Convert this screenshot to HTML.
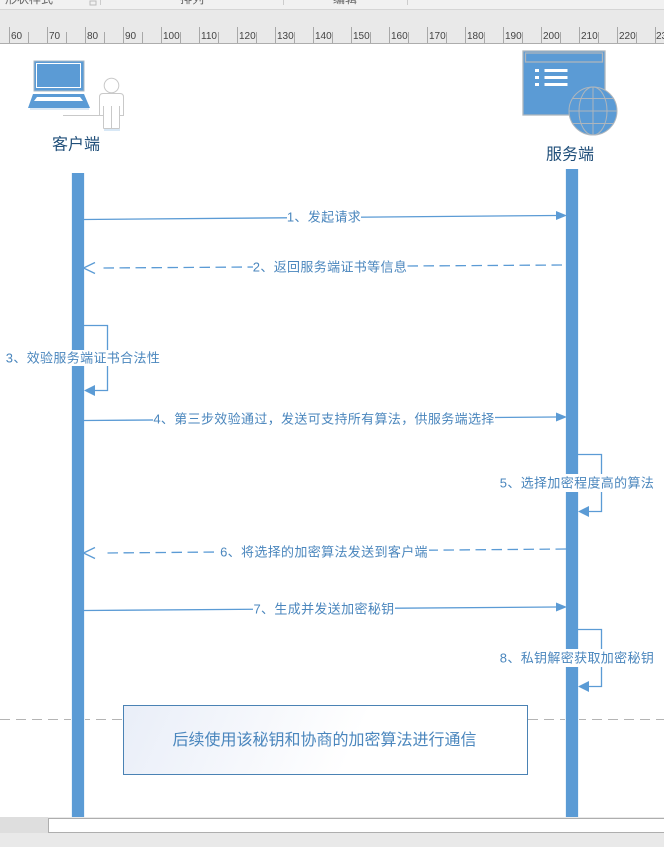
<!DOCTYPE html>
<html lang="zh">
<head>
<meta charset="utf-8">
<style>
html,body{margin:0;padding:0;background:#fff;width:664px;height:847px;overflow:hidden}
svg{display:block}
text{font-family:"Liberation Sans","Noto Sans CJK SC",sans-serif}
.l{font-size:13px;fill:#4a86bd;text-anchor:middle;letter-spacing:.35px}
.r{font-size:10px;fill:#444}
.c{stroke:#5b9bd5;stroke-width:1.3;fill:none}
.d{stroke:#5b9bd5;stroke-width:1.3;fill:none;stroke-dasharray:10.500 5.500}
.bg{fill:#fff}
.a{fill:#5b9bd5}
.o{fill:none;stroke:#5b9bd5;stroke-width:1.3}
.h{font-size:16px;fill:#1f4e79;text-anchor:middle}
</style>
</head>
<body>
<svg width="664" height="847" viewBox="0 0 664 847" xmlns="http://www.w3.org/2000/svg">
<!-- toolbar -->
<rect x="0" y="0" width="664" height="9" fill="#f1f1f1"/>
<rect x="0" y="9" width="664" height="34" fill="#e9e9e9"/>
<rect x="0" y="9" width="664" height="1" fill="#d5d5d5"/>
<rect x="0" y="43" width="664" height="1" fill="#adadad"/>
<text x="5" y="3" font-size="12" fill="#666">形状样式</text>
<text x="180" y="3" font-size="12" fill="#666">排列</text>
<text x="333" y="3" font-size="12" fill="#666">编辑</text>
<path d="M100.500 0V5M283.500 0V5M407.500 0V5" stroke="#ccc" fill="none"/>
<rect x="90" y="1" width="6" height="4" fill="none" stroke="#bbb"/>
<!-- ruler -->
<path stroke="#a8a8a8" fill="none" d="M9.500 27V43M28.500 32V43M47.500 27V43M66.500 32V43M85.500 27V43M104.500 32V43M123.500 27V43M142.500 32V43M161.500 27V43M180.500 32V43M199.500 27V43M218.500 32V43M237.500 27V43M256.500 32V43M275.500 27V43M294.500 32V43M313.500 27V43M332.500 32V43M351.500 27V43M370.500 32V43M389.500 27V43M408.500 32V43M427.500 27V43M446.500 32V43M465.500 27V43M484.500 32V43M503.500 27V43M522.500 32V43M541.500 27V43M560.500 32V43M579.500 27V43M598.500 32V43M617.500 27V43M636.500 32V43M655.500 27V43"/>
<g class="r">
<text class="r" x="11" y="39">60</text><text class="r" x="49" y="39">70</text><text class="r" x="87" y="39">80</text><text class="r" x="125" y="39">90</text><text class="r" x="163" y="39">100</text><text class="r" x="201" y="39">110</text><text class="r" x="239" y="39">120</text><text class="r" x="277" y="39">130</text><text class="r" x="315" y="39">140</text><text class="r" x="353" y="39">150</text><text class="r" x="391" y="39">160</text><text class="r" x="429" y="39">170</text><text class="r" x="467" y="39">180</text><text class="r" x="505" y="39">190</text><text class="r" x="543" y="39">200</text><text class="r" x="581" y="39">210</text><text class="r" x="619" y="39">220</text><text class="r" x="656" y="39">230</text>
</g>
<!-- divider -->
<path d="M0 719.500H664" stroke="#b4b4b4" stroke-width="1" stroke-dasharray="10 6" fill="none"/>
<!-- lifelines -->
<rect x="71" y="173" width="14" height="644" fill="#eaf3fb"/>
<rect x="72" y="173" width="12" height="644" fill="#5b9bd5"/>
<rect x="565" y="169" width="14" height="648" fill="#eaf3fb"/>
<rect x="566" y="169" width="12" height="648" fill="#5b9bd5"/>
<!-- client icon -->
<rect x="34" y="61" width="50" height="30" fill="#5b9bd5" stroke="#a9b8c6"/>
<rect x="36.500" y="63.500" width="44" height="24" fill="none" stroke="#fff"/>
<path d="M33 94H84L90 108H28Z" fill="#5b9bd5"/>
<path d="M37 97H80L83 101H34Z" fill="#fff"/>
<rect x="30" y="108" width="59" height="2" fill="#dce9f5"/>
<circle cx="111.500" cy="85.500" r="7.300" fill="#fff" stroke="#c9c9c9" stroke-width="1"/>
<path d="M103.500 128.500V106M119.500 128.500V106M103.500 128.500H119.500M111.500 128.500V106M99.500 115.500V97Q99.500 93.500 103 93.500H120Q123.500 93.500 123.500 97V115.500H119.500M103.500 115.500H63" fill="#fff" stroke="#c9c9c9" stroke-width="1"/>
<path d="M104 130H120" stroke="#d8e8f6" stroke-width="2"/>
<text class="h" x="76" y="149.500">客户端</text>
<!-- server icon -->
<rect x="523" y="51" width="82" height="64" fill="#5b9bd5" stroke="#aeb6bd" stroke-width="1.300"/>
<rect x="525.500" y="53" width="77" height="9" fill="#5b9bd5" stroke="#aeb6bd" stroke-width="1.300"/>
<g fill="#fff">
<rect x="535" y="69" width="4" height="3"/><rect x="535" y="76" width="4" height="3"/><rect x="535" y="83" width="4" height="3"/>
<rect x="544.500" y="69" width="23" height="3"/><rect x="544.500" y="76" width="23" height="3"/><rect x="544.500" y="83" width="23" height="3"/>
</g>
<circle cx="593" cy="111" r="24" fill="#5b9bd5" stroke="#aeb6bd" stroke-width="1"/>
<ellipse cx="593" cy="111" rx="14" ry="24" fill="none" stroke="#aeb6bd"/>
<path d="M593 87V135M569 111H617M573 98.500H613M573 123.500H613" stroke="#aeb6bd" fill="none"/>
<text class="h" x="570" y="159.500">服务端</text>
<!-- arrows -->
<path class="c" d="M84 219.500L556 215.500"/><path class="a" d="M556 211L567 215.500L556 220Z"/>
<rect class="bg" x="287" y="209" width="74" height="16"/>
<text class="l" x="324" y="221.500">1、发起请求</text>

<path class="d" d="M562 265L101 268"/><path class="o" d="M95 262.500L83.500 268L95 273.500"/>
<rect class="bg" x="253" y="258" width="154" height="16"/>
<text class="l" x="330" y="271.500">2、返回服务端证书等信息</text>

<path class="c" d="M84 325.500H107.500V390.500H95"/><path class="a" d="M84 390.500L95 385V396Z"/>
<rect class="bg" x="0" y="350" width="160" height="16"/>
<text class="l" x="83" y="362.500">3、效验服务端证书合法性</text>

<path class="c" d="M84 420.500L556 417"/><path class="a" d="M556 412.500L567 417L556 421.500Z"/>
<rect class="bg" x="153" y="411" width="342" height="16"/>
<text class="l" x="324" y="423.500">4、第三步效验通过，发送可支持所有算法，供服务端选择</text>

<path class="c" d="M578 454.500H601.500V511.500H589"/><path class="a" d="M578 511.500L589 506V517Z"/>
<rect class="bg" x="500" y="474" width="155" height="18"/>
<text class="l" x="577" y="487.500">5、选择加密程度高的算法</text>

<path class="d" d="M566 549L104 553"/><path class="o" d="M95 547.500L83.500 553L95 558.500"/>
<rect class="bg" x="219" y="543" width="210" height="16"/>
<text class="l" x="324" y="556.500">6、将选择的加密算法发送到客户端</text>

<path class="c" d="M84 610.500L556 607"/><path class="a" d="M556 602.500L567 607L556 611.500Z"/>
<rect class="bg" x="253" y="601" width="142" height="16"/>
<text class="l" x="324" y="613.500">7、生成并发送加密秘钥</text>

<path class="c" d="M578 629.500H601.500V686.500H589"/><path class="a" d="M578 686.500L589 681V692Z"/>
<rect class="bg" x="500" y="649" width="155" height="18"/>
<text class="l" x="577" y="662.500">8、私钥解密获取加密秘钥</text>
<!-- note -->
<defs><linearGradient id="g" gradientUnits="userSpaceOnUse" x1="123" y1="705" x2="330" y2="800"><stop offset="0" stop-color="#e9eef8"/><stop offset="1" stop-color="#ffffff"/></linearGradient></defs>
<rect x="123.500" y="705.500" width="404" height="69" fill="url(#g)" stroke="#4a82b4"/>
<text x="324.500" y="745" font-size="16" fill="#4a86bd" text-anchor="middle">后续使用该秘钥和协商的加密算法进行通信</text>
<!-- bottom bars -->
<rect x="0" y="817" width="664" height="30" fill="#e9e9e9"/>
<rect x="0" y="817" width="48" height="16" fill="#dedede"/>
<rect x="48.500" y="818.500" width="616" height="14" fill="#fff" stroke="#aeaeae"/>
</svg>
</body>
</html>
